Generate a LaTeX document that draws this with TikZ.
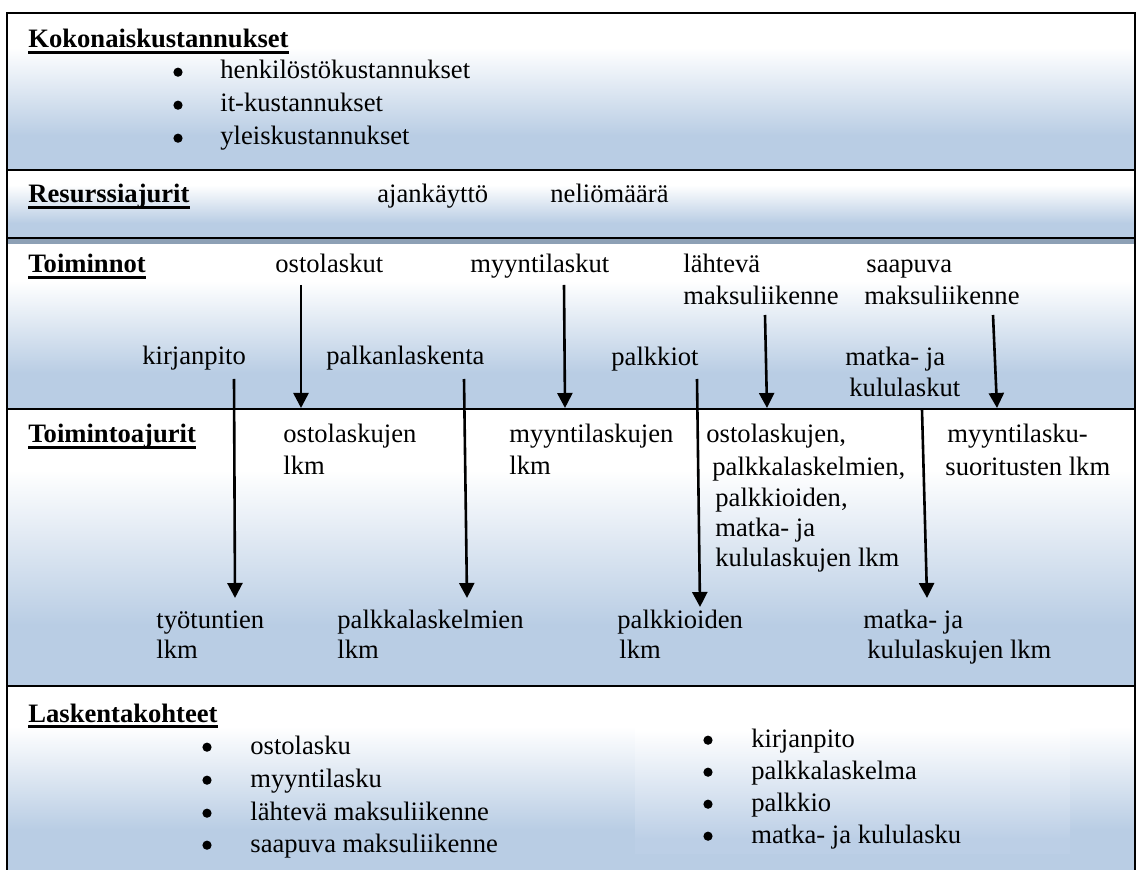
\documentclass[tikz,border=0pt]{standalone}
\usepackage{fontspec}
\setmainfont{Liberation Serif}
\usetikzlibrary{arrows.meta}
\definecolor{bandblue}{RGB}{185,205,228}
\definecolor{innerblue}{RGB}{188,207,230}
\definecolor{shadowgray}{RGB}{141,160,181}
\pgfdeclareverticalshading{bandshade}{100bp}{color(0bp)=(bandblue); color(36bp)=(bandblue); color(64bp)=(white); color(100bp)=(white)}
\pgfdeclareverticalshading{innershade}{100bp}{color(0bp)=(innerblue); color(30bp)=(innerblue); color(68bp)=(white); color(100bp)=(white)}
\begin{document}
\begin{tikzpicture}[x=0.5pt,y=-0.5pt,
  txt/.style={anchor=base west, inner sep=0pt, font=\fontsize{13.3}{16}\selectfont},
  head/.style={anchor=base west, inner sep=0pt, font=\fontsize{13.3}{16}\selectfont\bfseries},
  bul/.style={circle, fill=black, inner sep=0pt, minimum size=4.6pt, yshift=3.4pt},
  frameline/.style={line width=1.4pt, black},
  arr/.style={line width=1.3pt, -{Triangle[length=7.5pt,width=7.5pt]}},
  ulline/.style={line width=1.3pt}]
\useasboundingbox (0,0) rectangle (1138,870);

% band backgrounds
\shade[shading=bandshade] (7,13) rectangle (1135,170);
\shade[shading=bandshade] (7,170) rectangle (1135,238);
\fill[shadowgray] (7,238) rectangle (1135,245);
\shade[shading=bandshade] (7,245) rectangle (1135,409);
\shade[shading=bandshade] (7,409) rectangle (1135,686);
\shade[shading=bandshade] (7,686) rectangle (1135,870);
\shade[shading=innershade] (635,710) rectangle (1070,853);

% frame
\draw[frameline] (7,13) -- (1135,13);
\draw[frameline] (7,170) -- (1135,170);
\draw[frameline] (7,238) -- (1135,238);
\draw[frameline] (7,409) -- (1135,409);
\draw[frameline] (7,686) -- (1135,686);
\draw[frameline] (7,12.3) -- (7,870);
\draw[frameline] (1135,12.3) -- (1135,870);

% Kokonaiskustannukset
\node[head] (hk) at (28,48) {Kokonaiskustannukset};
\draw[ulline] ([yshift=-2.3pt]hk.base west) -- ([yshift=-2.3pt]hk.base east);
\node[bul] (kb1) at (178,79) {};
\node[txt] (k1) at (220,79) {henkilöstökustannukset};
\node[bul] (kb2) at (178,112) {};
\node[txt] (k2) at (220,112) {it-kustannukset};
\node[bul] (kb3) at (178,145) {};
\node[txt] (k3) at (220,145) {yleiskustannukset};

% Resurssiajurit
\node[head] (hr) at (28,203) {Resurssiajurit};
\draw[ulline] ([yshift=-2.3pt]hr.base west) -- ([yshift=-2.3pt]hr.base east);
\node[txt] (r1) at (377,203) {ajankäyttö};
\node[txt] (r2) at (550,203) {neliömäärä};

% Toiminnot
\node[head] (ht) at (28,273) {Toiminnot\ };
\draw[ulline] ([yshift=-2.3pt]ht.base west) -- ([yshift=-2.3pt]ht.base east);
\node[txt] (t1) at (275,273) {ostolaskut};
\node[txt] (t2) at (470,273) {myyntilaskut};
\node[txt] (t3a) at (683,273) {lähtevä};
\node[txt] (t3b) at (683,305) {maksuliikenne};
\node[txt] (t4a) at (866,273) {saapuva};
\node[txt] (t4b) at (864,305) {maksuliikenne};
\node[txt] (t5) at (142,365) {kirjanpito};
\node[txt] (t6) at (326,365) {palkanlaskenta};
\node[txt] (t7) at (611,366) {palkkiot};
\node[txt] (t8a) at (845,366) {matka- ja};
\node[txt] (t8b) at (849,397) {kululaskut};

% Toimintoajurit
\node[head] (hta) at (28,443) {Toimintoajurit};
\draw[ulline] ([yshift=-2.3pt]hta.base west) -- ([yshift=-2.3pt]hta.base east);
\node[txt] (d1a) at (283,443) {ostolaskujen};
\node[txt] (d1b) at (283,474) {lkm};
\node[txt] (d2a) at (509,443) {myyntilaskujen};
\node[txt] (d2b) at (509,474) {lkm};
\node[txt] (d3a) at (706,443) {ostolaskujen,};
\node[txt] (d3b) at (712,475) {palkkalaskelmien,};
\node[txt] (d3c) at (715,506) {palkkioiden,};
\node[txt] (d3d) at (715,536) {matka- ja};
\node[txt] (d3e) at (715,566) {kululaskujen lkm};
\node[txt] (d4a) at (947,443) {myyntilasku-};
\node[txt] (d4b) at (945,475) {suoritusten lkm};
\node[txt] (d5a) at (156,628) {työtuntien};
\node[txt] (d5b) at (156,658) {lkm};
\node[txt] (d6a) at (337,628) {palkkalaskelmien};
\node[txt] (d6b) at (337,658) {lkm};
\node[txt] (d7a) at (617,628) {palkkioiden};
\node[txt] (d7b) at (619,658) {lkm};
\node[txt] (d8a) at (863,628) {matka- ja};
\node[txt] (d8b) at (867,658) {kululaskujen lkm};

% Laskentakohteet
\node[head] (hl) at (28,722) {Laskentakohteet};
\draw[ulline] ([yshift=-2.3pt]hl.base west) -- ([yshift=-2.3pt]hl.base east);
\node[bul] (lb1) at (207,754) {};
\node[txt] (l1) at (250,754) {ostolasku};
\node[bul] (lb2) at (207,787) {};
\node[txt] (l2) at (250,787) {myyntilasku};
\node[bul] (lb3) at (207,820) {};
\node[txt] (l3) at (250,820) {lähtevä maksuliikenne};
\node[bul] (lb4) at (207,852) {};
\node[txt] (l4) at (250,852) {saapuva maksuliikenne};
\node[bul] (rb1) at (708,747) {};
\node[txt] (m1) at (751,747) {kirjanpito};
\node[bul] (rb2) at (708,779) {};
\node[txt] (m2) at (751,779) {palkkalaskelma};
\node[bul] (rb3) at (708,811) {};
\node[txt] (m3) at (751,811) {palkkio};
\node[bul] (rb4) at (708,843) {};
\node[txt] (m4) at (751,843) {matka- ja kululasku};

% arrow coordinates
\coordinate (a1s) at (301,285); \coordinate (a1e) at (301,408);
\coordinate (a2s) at (564,285); \coordinate (a2e) at (565,408);
\coordinate (a3s) at (765,315); \coordinate (a3e) at (767,408);
\coordinate (a4s) at (993,315); \coordinate (a4e) at (997,408);
\coordinate (a5s) at (234,379); \coordinate (a5e) at (235,598);
\coordinate (a6s) at (464,379); \coordinate (a6e) at (467,598);
\coordinate (a7s) at (697,379); \coordinate (a7e) at (700,607);
\coordinate (a8s) at (922,410); \coordinate (a8e) at (927,598);
\draw[arr] (a1s) -- (a1e);
\draw[arr] (a2s) -- (a2e);
\draw[arr] (a3s) -- (a3e);
\draw[arr] (a4s) -- (a4e);
\draw[arr] (a5s) -- (a5e);
\draw[arr] (a6s) -- (a6e);
\draw[arr] (a7s) -- (a7e);
\draw[arr] (a8s) -- (a8e);
\end{tikzpicture}
\end{document}
